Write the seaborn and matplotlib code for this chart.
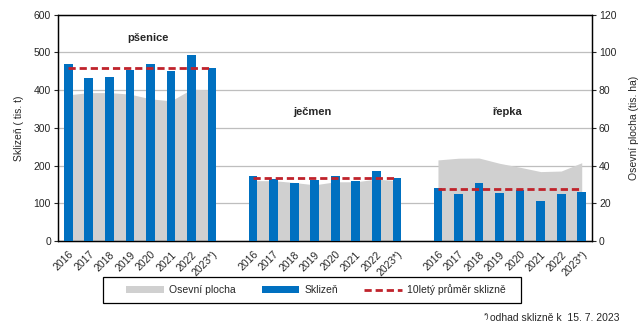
import numpy as np
import pandas as pd
import seaborn as sns
import matplotlib
matplotlib.use("Agg")
import matplotlib.pyplot as plt
from matplotlib.patches import Patch, Rectangle
from matplotlib.lines import Line2D
from matplotlib.ticker import FixedLocator

# ---- data ----
crops = ["pšenice", "ječmen", "řepka"]
years = ["2016", "2017", "2018", "2019", "2020", "2021", "2022", "2023*)"]
harvest_psenice = [470, 432, 436, 454, 470, 451, 493, 459]
harvest_jecmen = [172, 165, 154, 162, 172, 159, 186, 167]
harvest_repka = [141, 125, 154, 127, 136, 106, 125, 130]
area_psenice = [77.5, 78.7, 78.7, 77.9, 75.4, 74.3, 80.5, 80.1]
area_jecmen = [32.0, 32.0, 31.0, 29.8, 31.4, 31.4, 32.8, 32.0]
area_repka = [43.0, 43.9, 44.0, 41.2, 39.1, 36.8, 37.1, 41.5]
avg10 = [460, 168, 139]

harvests = [harvest_psenice, harvest_jecmen, harvest_repka]
areas = [area_psenice, area_jecmen, area_repka]

rows = []
for gi, crop in enumerate(crops):
    for yi, y in enumerate(years):
        rows.append(dict(crop=crop, year=y, pos=gi * (len(years) + 1) + yi,
                         harvest=harvests[gi][yi], area=areas[gi][yi], avg=avg10[gi]))
df = pd.DataFrame(rows)

BLUE = "#0070C0"
GREY = "#D0D0D0"
RED = "#C0232B"

sns.set_style("white")
plt.rcParams['font.family'] = ['Liberation Sans', 'DejaVu Sans']
plt.rcParams['font.size'] = 7.5

fig = plt.figure(figsize=(6.43, 3.29), dpi=100)
ax = fig.add_axes([58/643, 1-241/329, 534/643, (241-14.7)/329])
ax2 = ax.twinx()

# area on secondary axis (behind)
for crop in crops:
    d = df[df.crop == crop]
    ax2.fill_between(d.pos, 0, d.area, color=GREY, lw=0, zorder=2)
ax2.set_ylim(0, 120)
ax2.set_yticks(np.arange(0, 121, 20))
ax2.yaxis.grid(True, color="#BEBEBE", lw=0.9, zorder=0)
ax2.set_axisbelow(True)

# bars on primary axis (front)
ax.set_zorder(ax2.get_zorder() + 1)
ax.patch.set_visible(False)
sns.barplot(data=df, x="pos", y="harvest", native_scale=True, color=BLUE,
            width=0.42, saturation=1, ax=ax, errorbar=None, zorder=3,
            linewidth=0, edgecolor="none")
for crop in crops:
    d = df[df.crop == crop]
    ax.plot(d.pos, d.avg, color=RED, lw=2, ls=(0, (2.6, 1.4)), zorder=4)

n = len(df.pos.unique()) + 2
ax.set_xlim(-0.5, n - 0.5)
ax.set_ylim(0, 600)
ax.set_yticks(np.arange(0, 601, 100))
ax.set_xticks(df.pos)
ax.set_xticklabels(df.year, rotation=45, ha="right", rotation_mode="anchor")
ax.xaxis.set_minor_locator(FixedLocator(np.arange(-0.5, n, 1.0)))
ax.tick_params(axis="x", which="major", length=0, pad=6)
ax.tick_params(axis="x", which="minor", length=4, width=0.8, color="black", direction="out")
ax.tick_params(axis="y", length=3, width=0.8, direction="out", pad=2)
ax2.tick_params(axis="y", length=3, width=0.8, direction="out", pad=2)
ax.set_xlabel("")
ax.set_ylabel("Sklizeň ( tis. t)")
ax2.set_ylabel("Osevní plocha (tis. ha)")
ax.yaxis.set_label_coords(-0.064, 0.5)
ax2.yaxis.set_label_coords(1.07, 0.5)

for a in (ax, ax2):
    for s in a.spines.values():
        s.set_color("black")
        s.set_linewidth(0.9)

# group labels
label_pos = [(3.9, 539), (11.9, 342), (21.4, 342)]
for crop, (xx, yy) in zip(crops, label_pos):
    ax.text(xx, yy, crop, ha="center", va="center", fontsize=8, fontweight="bold")

# legend with separate frame
fig.patches.append(Rectangle((103/643, 1-303/329), 418/643, 26/329, transform=fig.transFigure,
                             facecolor="white", edgecolor="black", lw=0.9, zorder=5))
handles = [Patch(facecolor=GREY, edgecolor="none", label="Osevní plocha"),
           Patch(facecolor=BLUE, edgecolor="none", label="Sklizeň"),
           Line2D([0], [0], color=RED, lw=2, ls=(0, (2.6, 1.4)), label="10letý průměr sklizně")]
leg = fig.legend(handles=handles, loc="center", bbox_to_anchor=(316/643, 1-290/329),
                 ncol=3, frameon=False,
                 handlelength=3.6, handleheight=0.6, handletextpad=0.5,
                 columnspacing=2.5, borderpad=0.3, fontsize=7.5)
leg.set_zorder(6)

t = fig.text(620/643, 1-318/329, "odhad sklizně k  15. 7. 2023", ha="right", va="center", fontsize=7.5)
ax.annotate("*)", xy=(0, 1), xycoords=t, xytext=(-1, 0), textcoords="offset points",
            ha="right", va="top", fontsize=5.5)

fig.savefig("out.png", dpi=100)
